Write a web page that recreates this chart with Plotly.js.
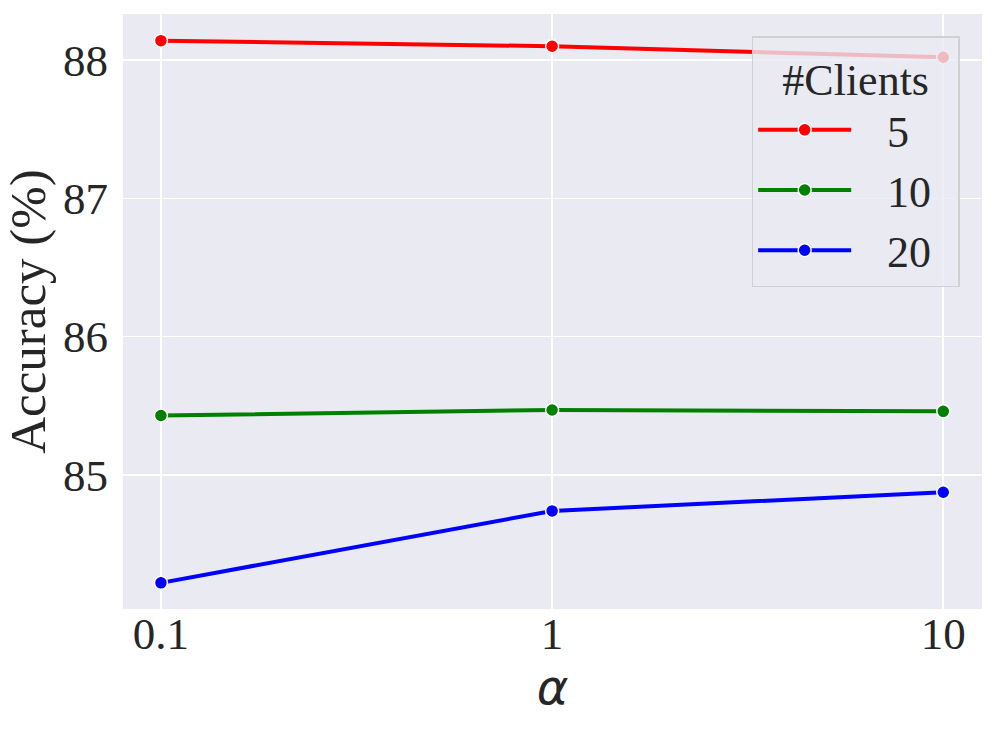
<!DOCTYPE html>
<html>
<head>
<meta charset="utf-8">
<script src="https://cdn.plot.ly/plotly-3.0.1.min.js"></script>
<style>html,body{margin:0;padding:0;background:#fff;}</style>
</head>
<body>
<div id="chart" style="width:996px;height:732px;"></div>
<script>
const alphaValues = [0.1, 1, 10];
const alphaTickLabels = ['0.1', '1', '10'];
const clientGroups = ['5', '10', '20'];
const acc5 = [88.14, 88.10, 88.02];
const acc10 = [85.43, 85.47, 85.46];
const acc20 = [84.22, 84.74, 84.875];
const yTicks = [85, 86, 87, 88];
const seriesColors = ['#ff0000', '#008000', '#0000ff'];

const seriesData = [acc5, acc10, acc20];
const traces = seriesData.map((ys, i) => ({
  x: alphaValues,
  y: ys,
  name: '\u00a0\u00a0\u2009' + clientGroups[i] + '\u00a0\u00a0',
  type: 'scatter',
  mode: 'lines+markers',
  line: {color: seriesColors[i], width: 4},
  marker: {color: seriesColors[i], size: 13, line: {color: '#ffffff', width: 1.5}}
}));

const serif = 'Liberation Serif, Times New Roman, serif';
const layout = {
  width: 996, height: 732,
  margin: {l: 123, r: 14, t: 14, b: 123},
  paper_bgcolor: '#ffffff',
  plot_bgcolor: '#eaeaf2',
  font: {family: serif, size: 44, color: '#262626'},
  showlegend: true,
  xaxis: {
    type: 'log',
    range: [-1.097, 1.099],
    tickvals: alphaValues,
    ticktext: alphaTickLabels,
    showgrid: true, gridcolor: '#ffffff', gridwidth: 1.6,
    zeroline: false, showline: false, ticks: '',
    ticklabelstandoff: -6,
    tickfont: {family: serif, size: 45, color: '#262626'},
    title: {text: 'α', font: {family: 'DejaVu Sans', size: 48, style: 'italic', color: '#262626'}, standoff: 2},
    automargin: false
  },
  yaxis: {
    range: [84.031, 88.333],
    tickvals: yTicks,
    ticktext: yTicks.map(String),
    showgrid: true, gridcolor: '#ffffff', gridwidth: 1.6,
    zeroline: false, showline: false, ticks: '',
    ticklabelstandoff: 14,
    tickfont: {family: serif, size: 45, color: '#262626'},
    title: {text: 'Accuracy (%)', font: {family: serif, size: 51, color: '#262626'}, standoff: 6},
    automargin: false
  },
  legend: {
    x: 0.974, xanchor: 'right',
    y: 0.963, yanchor: 'top',
    bgcolor: 'rgba(234,234,242,0.8)',
    bordercolor: '#d0d0d0', borderwidth: 1.5,
    font: {family: serif, size: 44, color: '#262626'},
    title: {text: '#Clients', side: 'top center', font: {family: serif, size: 44, color: '#262626'}},
    itemwidth: 93,
    tracegroupgap: 0
  }
};

Plotly.newPlot('chart', traces, layout, {displayModeBar: false, staticPlot: true});
</script>
</body>
</html>
